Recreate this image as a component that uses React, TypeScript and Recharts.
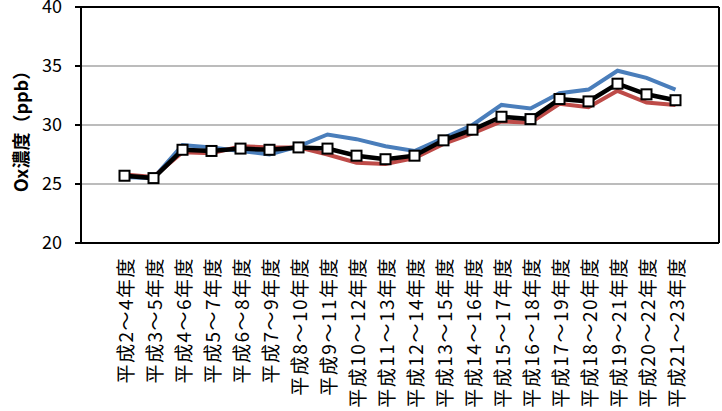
import React from "react";
import {
  LineChart,
  Line,
  XAxis,
  YAxis,
  CartesianGrid,
  ReferenceLine,
} from "recharts";

const categories = [
  "平成2～4年度",
  "平成3～5年度",
  "平成4～6年度",
  "平成5～7年度",
  "平成6～8年度",
  "平成7～9年度",
  "平成8～10年度",
  "平成9～11年度",
  "平成10～12年度",
  "平成11～13年度",
  "平成12～14年度",
  "平成13～15年度",
  "平成14～16年度",
  "平成15～17年度",
  "平成16～18年度",
  "平成17～19年度",
  "平成18～20年度",
  "平成19～21年度",
  "平成20～22年度",
  "平成21～23年度",
];

const blueValues = [
  25.6, 25.5, 28.3, 28.1, 27.8, 27.5, 28.2, 29.2, 28.8, 28.2, 27.8, 28.9, 30.0,
  31.7, 31.4, 32.7, 33.0, 34.6, 34.0, 33.0,
];
const redValues = [
  25.8, 25.6, 27.7, 27.6, 28.2, 28.1, 28.1, 27.5, 26.8, 26.7, 27.2, 28.4, 29.3,
  30.3, 30.2, 31.8, 31.5, 32.9, 31.9, 31.7,
];
const avgValues = [
  25.7, 25.5, 27.9, 27.8, 28.0, 27.9, 28.1, 28.0, 27.4, 27.1, 27.4, 28.7, 29.6,
  30.7, 30.5, 32.2, 32.0, 33.5, 32.6, 32.1,
];

const yTicks = [20, 25, 30, 35, 40];

// one empty band on each side, like the original
const bandCount = categories.length + 2;
const boundaryTicks = Array.from({ length: bandCount + 1 }, (_, i) => i);
const centerTicks = categories.map((_, i) => i + 1.5);

const data = categories.map((label, i) => ({
  x: i + 1.5,
  label,
  blue: blueValues[i],
  red: redValues[i],
  avg: avgValues[i],
}));

const jp = '"Noto Sans CJK JP", sans-serif';

const CategoryTick = (props: any) => {
  const { x, y, payload } = props;
  const label = categories[Math.round(payload.value - 1.5)] ?? "";
  return (
    <text
      x={x}
      y={y}
      transform={`rotate(-90, ${x}, ${y})`}
      textAnchor="end"
      dominantBaseline="central"
      fontFamily={jp}
      fontSize={19}
      letterSpacing={1.5}
      fill="#000"
    >
      {label}
    </text>
  );
};

const SquareDot = (props: any) => {
  const { cx, cy, index } = props;
  if (cx == null || cy == null) return null;
  return (
    <rect
      key={`sq-${index}`}
      x={cx - 5}
      y={cy - 5}
      width={10}
      height={10}
      fill="#fff"
      stroke="#000"
      strokeWidth={2}
    />
  );
};

export default function App() {
  return (
    <div style={{ width: 722, height: 411 }}>
      <style>{`body{margin:0}`}</style>
      <LineChart
        width={722}
        height={411}
        data={data}
        margin={{ top: 7, right: 2, bottom: 0, left: 0 }}
      >
        <CartesianGrid vertical={false} stroke="#a6a6a6" strokeWidth={1.5} />
        <XAxis
          type="number"
          dataKey="x"
          domain={[0, bandCount]}
          ticks={boundaryTicks}
          interval={0}
          tick={false}
          tickSize={6}
          height={6}
          axisLine={{ stroke: "#000", strokeWidth: 2 }}
          tickLine={{ stroke: "#000", strokeWidth: 2 }}
        />
        <XAxis
          xAxisId="lbl"
          type="number"
          dataKey="x"
          domain={[0, bandCount]}
          ticks={centerTicks}
          interval={0}
          axisLine={false}
          tickLine={false}
          tickSize={0}
          tickMargin={8}
          height={162}
          tick={<CategoryTick />}
        />
        <YAxis
          domain={[20, 40]}
          ticks={yTicks}
          interval={0}
          width={81}
          tickSize={6}
          tickMargin={13}
          axisLine={{ stroke: "#000", strokeWidth: 2 }}
          tickLine={{ stroke: "#000", strokeWidth: 2 }}
          tick={{ fill: "#000", fontSize: 18, fontFamily: jp }}
          label={(p: any) => {
            const vb = p.viewBox || { x: 0, y: 7, height: 236 };
            const cx = 20;
            const cy = vb.y + vb.height / 2 + 2;
            return (
              <text
                x={cx}
                y={cy}
                transform={`rotate(-90, ${cx}, ${cy})`}
                textAnchor="middle"
                dominantBaseline="central"
                fontFamily={jp}
                fontWeight="bold"
                fontSize={18}
                fill="#000"
              >
                Ox濃度（ppb）
              </text>
            );
          }}
        />
        <YAxis
          yAxisId="r"
          orientation="right"
          domain={[20, 40]}
          width={1}
          tick={false}
          tickLine={false}
          axisLine={{ stroke: "#000", strokeWidth: 2 }}
        />
        <ReferenceLine y={40} stroke="#000" strokeWidth={2} />
        <Line
          type="linear"
          dataKey="blue"
          name="系列1"
          stroke="#4a7ebb"
          strokeWidth={4}
          dot={false}
          isAnimationActive={false}
        />
        <Line
          type="linear"
          dataKey="red"
          name="系列2"
          stroke="#be4b48"
          strokeWidth={4}
          dot={false}
          isAnimationActive={false}
        />
        <Line
          type="linear"
          dataKey="avg"
          name="平均"
          stroke="#000"
          strokeWidth={4.5}
          dot={<SquareDot />}
          isAnimationActive={false}
        />
      </LineChart>
    </div>
  );
}
